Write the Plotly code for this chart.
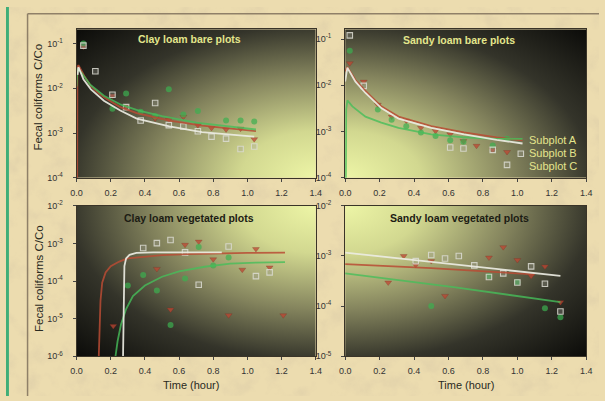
import base64
import plotly.graph_objects as go

# ---------------- DATA ----------------
# Clay loam bare plots
cb_t = [0.04, 0.11, 0.21, 0.29, 0.375, 0.46, 0.54, 0.625, 0.71, 0.79, 0.875, 0.96, 1.04]
cb_A = [0.085, None, 0.0068, 0.0040, None, 0.0021, 0.0020, 0.0023, 0.0015, 0.0013, 0.0012, 0.00125, 0.00073]
cb_B = [0.10, None, 0.0035, 0.0077, 0.0030, 0.0024, 0.0095, 0.0026, 0.0031, None, 0.0019, 0.0019, 0.0018]
cb_C = [0.09, 0.024, 0.0072, 0.0038, 0.0019, 0.0047, 0.0015, 0.0014, 0.0011, 0.00083, 0.00075, 0.00044, 0.0005]
cb_fitA_t = [0.003, 0.005, 0.011, 0.046, 0.084, 0.122, 0.16, 0.256, 0.352, 0.447, 0.543, 0.734, 0.925, 1.05]
cb_fitA = [1e-5, 0.030, 0.033, 0.0186, 0.0112, 0.0081, 0.0063, 0.0038, 0.0028, 0.0023, 0.0019, 0.00146, 0.00122, 0.0011]
cb_fitB_t = [0.0, 0.005, 0.03, 0.08, 0.16, 0.26, 0.36, 0.5, 0.7, 0.9, 1.05]
cb_fitB = [0.011, 0.028, 0.022, 0.012, 0.0068, 0.0043, 0.0032, 0.0024, 0.0017, 0.0014, 0.0012]
cb_fitC_t = [0.006, 0.011, 0.04, 0.084, 0.16, 0.256, 0.352, 0.543, 0.734, 0.925, 1.04]
cb_fitC = [0.02, 0.030, 0.016, 0.0095, 0.0053, 0.0032, 0.0021, 0.0014, 0.00105, 0.00089, 0.00083]

# Sandy loam bare plots
sb_t = [0.027, 0.108, 0.19, 0.27, 0.355, 0.44, 0.525, 0.61, 0.687, 0.763, 0.857, 0.94, 1.02]
sb_A = [0.030, 0.012, 0.0038, 0.0021, 0.0017, 0.0012, 0.00103, 0.00087, 0.00062, 0.00049, 0.0004, 0.00036, None]
sb_B = [0.056, None, 0.0030, 0.0018, 0.0013, 0.00095, 0.0008, 0.00065, 0.0006, None, 0.0005, 0.0007, None]
sb_C = [0.12, 0.0097, None, None, None, None, None, 0.00045, 0.00043, None, 0.0004, 0.00019, 0.00033]
sb_fitA_t = [0.0, 0.013, 0.06, 0.118, 0.21, 0.31, 0.5, 0.69, 0.88, 1.03]
sb_fitA = [0.02, 0.025, 0.013, 0.0076, 0.0035, 0.0021, 0.0013, 0.00096, 0.00075, 0.00064]
sb_fitB_t = [0.003, 0.006, 0.013, 0.042, 0.118, 0.21, 0.31, 0.5, 0.69, 0.88, 1.03]
sb_fitB = [1e-5, 0.003, 0.0047, 0.0035, 0.0021, 0.00155, 0.0012, 0.00087, 0.00075, 0.00069, 0.00069]
sb_fitC_t = [0.0, 0.013, 0.06, 0.118, 0.21, 0.31, 0.5, 0.69, 0.88, 1.03]
sb_fitC = [0.012, 0.024, 0.012, 0.0068, 0.0032, 0.0019, 0.0012, 0.00087, 0.00066, 0.00055]

# Clay loam vegetated plots
cv_t = [0.215, 0.30, 0.39, 0.47, 0.55, 0.635, 0.715, 0.80, 0.89, 0.97, 1.05, 1.13, 1.21]
cv_A = [6.4e-6, None, None, 0.00021, 1.74e-5, 0.00092, 0.00112, 0.00038, 1.23e-5, 0.0002, 0.00071, 0.00023, 1.23e-5]
cv_B = [None, 7.6e-5, 0.000145, 5.6e-5, 6.8e-6, 0.000117, 0.0008, 0.00026, 0.00042, None, None, None, None]
cv_C = [None, None, 0.00076, 0.00102, 0.00124, 0.00058, 8e-5, None, 0.00083, None, 0.000135, 0.00017, None]
cv_fitA_t = [0.13, 0.14, 0.15, 0.17, 0.2, 0.25, 0.3, 0.4, 0.5, 0.65, 0.85, 1.0, 1.22]
cv_fitA = [1e-6, 3e-5, 9e-5, 0.00017, 0.00025, 0.00033, 0.0004, 0.00045, 0.00049, 0.00052, 0.00055, 0.00056, 0.00057]
cv_fitB_t = [0.228, 0.24, 0.26, 0.29, 0.33, 0.4, 0.5, 0.6, 0.75, 0.9, 1.05, 1.22]
cv_fitB = [1e-6, 2.5e-6, 7e-6, 1.8e-5, 4e-5, 7.6e-5, 0.00013, 0.00018, 0.00024, 0.00029, 0.00031, 0.00032]
cv_fitC_t = [0.272, 0.275, 0.28, 0.29, 0.31, 0.35, 0.45, 0.6, 0.85]
cv_fitC = [1e-6, 5e-5, 0.00025, 0.0004, 0.0005, 0.00056, 0.00058, 0.00058, 0.00058]

# Sandy loam vegetated plots
sv_t = [0.25, 0.34, 0.41, 0.50, 0.58, 0.66, 0.75, 0.835, 0.918, 1.0, 1.08, 1.16, 1.25]
sv_A = [0.000295, 0.001, 0.00066, 0.00079, 0.00016, None, None, 0.00093, 0.0015, 0.00083, 0.0004, 0.00062, 0.00012]
sv_B = [None, None, None, 0.0001, None, None, None, 0.0004, None, 0.0003, None, 0.000091, 0.00006]
sv_C = [None, None, 0.00079, 0.00105, 0.00089, 0.001, 0.00065, 0.00038, 0.00045, 0.000295, 0.00062, 0.00028, 0.000078]
sv_fitA_t = [0.0, 0.5, 1.1]
sv_fitA = [0.00069, 0.00057, 0.00043]
sv_fitB_t = [0.0, 0.63, 1.25]
sv_fitB = [0.00045, 0.00024, 0.00012]
sv_fitC_t = [0.0, 0.63, 1.25]
sv_fitC = [0.00117, 0.00069, 0.0004]

panel_titles = ["Clay loam bare plots", "Sandy loam bare plots",
                "Clay loam vegetated plots", "Sandy loam vegetated plots"]
series_names = ["Subplot A", "Subplot B", "Subplot C"]
x_ticks = [0.0, 0.2, 0.4, 0.6, 0.8, 1.0, 1.2, 1.4]
y_title = "Fecal coliforms C/Co"
x_title = "Time (hour)"

# ---------------- STYLE ----------------
W, H = 605, 401
FONT = "Liberation Sans, Arial, sans-serif"
RED, GREEN, WHITE = "rgba(185,75,52,0.85)", "rgba(70,190,90,0.8)", "rgba(236,236,226,0.92)"


def px_x(p):
    return p / W


def px_y(p):
    return 1 - p / H


def b64svg(svg):
    return "data:image/svg+xml;base64," + base64.b64encode(svg.encode()).decode()


def grad(cx, cy):
    return b64svg(
        '<svg xmlns="http://www.w3.org/2000/svg" width="200" height="200" viewBox="0 0 200 200" '
        'preserveAspectRatio="none"><defs><radialGradient id="g" gradientUnits="userSpaceOnUse" '
        f'cx="{cx}" cy="{cy}" r="285">'
        '<stop offset="0" stop-color="#edf5a6"/><stop offset="0.22" stop-color="#d2d890"/>'
        '<stop offset="0.48" stop-color="#85855e"/><stop offset="0.72" stop-color="#34342a"/>'
        '<stop offset="1" stop-color="#0a0a08"/></radialGradient></defs>'
        '<rect width="200" height="200" fill="url(#g)"/></svg>')


parchment = b64svg(
    f'<svg xmlns="http://www.w3.org/2000/svg" width="{W}" height="{H}">'
    '<filter id="n" x="0" y="0" width="100%" height="100%">'
    '<feTurbulence type="fractalNoise" baseFrequency="0.045" numOctaves="4" seed="7"/>'
    '<feColorMatrix type="matrix" values="0 0 0 0 0.62  0 0 0 0 0.52  0 0 0 0 0.36  1.6 0 0 0 -0.75"/>'
    '</filter>'
    '<rect width="100%" height="100%" fill="#ecdcaf"/>'
    '<rect width="100%" height="100%" filter="url(#n)" opacity="0.5"/></svg>')

# panel geometry in pixels: (left, right, top, bottom), y log range
geo = [(72, 316, 23, 176, [-4, -0.68]),
       (346, 592, 23, 176, [-4, -0.79]),
       (72, 316, 205, 360, [-6, -2]),
       (346, 592, 205, 360, [-5, -2])]
grad_centers = [(200, 200), (0, 200), (200, 0), (0, 0)]

panel_data = [
    (cb_t, cb_A, cb_B, cb_C, (cb_fitA_t, cb_fitA), (cb_fitB_t, cb_fitB), (cb_fitC_t, cb_fitC)),
    (sb_t, sb_A, sb_B, sb_C, (sb_fitA_t, sb_fitA), (sb_fitB_t, sb_fitB), (sb_fitC_t, sb_fitC)),
    (cv_t, cv_A, cv_B, cv_C, (cv_fitA_t, cv_fitA), (cv_fitB_t, cv_fitB), (cv_fitC_t, cv_fitC)),
    (sv_t, sv_A, sv_B, sv_C, (sv_fitA_t, sv_fitA), (sv_fitB_t, sv_fitB), (sv_fitC_t, sv_fitC)),
]

fig = go.Figure()
layout = dict(width=W, height=H, margin=dict(l=0, r=0, t=0, b=0), autosize=False,
              paper_bgcolor="#ecdcaf", plot_bgcolor="rgba(0,0,0,0)", showlegend=False,
              font=dict(family=FONT, color="#333"))
images = [dict(source=parchment, xref="paper", yref="paper", x=0, y=1, sizex=1, sizey=1,
               sizing="stretch", layer="below", xanchor="left", yanchor="top")]
annotations = []

for i, (g, d) in enumerate(zip(geo, panel_data)):
    l, r, t, b, yr = g
    n = "" if i == 0 else str(i + 1)
    xa, ya = "x" + n, "y" + n
    tt, A, B, C, fA, fB, fC = d
    # markers
    fig.add_trace(go.Scatter(x=tt, y=A, mode="markers", xaxis=xa, yaxis=ya, name=series_names[0],
                             marker=dict(symbol="triangle-down", size=6, color="rgba(190,70,50,0.75)",
                                         line=dict(width=0.5, color="rgba(120,40,30,0.5)"))))
    fig.add_trace(go.Scatter(x=tt, y=B, mode="markers", xaxis=xa, yaxis=ya, name=series_names[1],
                             marker=dict(symbol="circle", size=6, color="rgba(60,175,80,0.7)",
                                         line=dict(width=0))))
    fig.add_trace(go.Scatter(x=tt, y=C, mode="markers", xaxis=xa, yaxis=ya, name=series_names[2],
                             marker=dict(symbol="square", size=5.5, color="rgba(160,160,150,0.3)",
                                         line=dict(width=1.1, color="rgba(220,220,210,0.85)"))))
    # fitted curves
    for (ft, fy), col in ((fA, RED), (fB, GREEN), (fC, WHITE)):
        fig.add_trace(go.Scatter(x=ft, y=fy, mode="lines", xaxis=xa, yaxis=ya,
                                 line=dict(color=col, width=1.8)))
    yexp = [e for e in range(-6, 0) if yr[0] - 1e-9 <= e <= yr[1] + 1e-9]
    layout["xaxis" + n] = dict(domain=[px_x(l), px_x(r)], anchor=ya, range=[0, 1.4],
                               tickvals=x_ticks, ticktext=[f"{v:.1f}" for v in x_ticks],
                               ticks="outside", ticklen=3, tickcolor="#444", showgrid=False,
                               zeroline=False, showline=True, linecolor="#3a3428", linewidth=1,
                               mirror=True, tickfont=dict(size=9, color="#333"), ticklabelstandoff=3)
    layout["yaxis" + n] = dict(domain=[px_y(b), px_y(t)], anchor=xa, type="log", range=yr,
                               tickvals=[10.0 ** e for e in yexp],
                               ticktext=[f"10<sup>{e}</sup>" for e in yexp],
                               ticks="outside", ticklen=3, tickcolor="#444", showgrid=False,
                               zeroline=False, showline=True, linecolor="#3a3428", linewidth=1,
                               mirror=True, tickfont=dict(size=9, color="#333"), ticklabelstandoff=8)
    images.append(dict(source=grad(*grad_centers[i]), xref=xa + " domain", yref=ya + " domain",
                       x=0, y=1, sizex=1, sizey=1, sizing="stretch", layer="below",
                       xanchor="left", yanchor="top"))

# panel titles
title_pos = [(187, 33, "#e3e68c"), (462, 34, "#e3e68c"), (187, 217, "#1c1c14"), (463, 217, "#1c1c14")]
for (x, y, c), txt in zip(title_pos, panel_titles):
    annotations.append(dict(text=f"<b>{txt}</b>", x=px_x(x), y=px_y(y), xref="paper", yref="paper",
                            showarrow=False, font=dict(size=10.5, color=c, family=FONT),
                            xanchor="center", yanchor="middle"))
# legend text
for k, (name, y) in enumerate(zip(series_names, [137, 151, 164])):
    annotations.append(dict(text=name, x=px_x(532), y=px_y(y), xref="paper", yref="paper",
                            showarrow=False, font=dict(size=11, color="#e4e48c", family=FONT),
                            xanchor="left", yanchor="middle"))
# axis titles
for yc in (93, 280):
    annotations.append(dict(text=y_title, x=px_x(33), y=px_y(yc), xref="paper", yref="paper",
                            showarrow=False, textangle=-90, font=dict(size=11.5, color="#2a2a22", family=FONT),
                            xanchor="center", yanchor="middle"))
for xc in (189, 469):
    annotations.append(dict(text=x_title, x=px_x(xc), y=px_y(390), xref="paper", yref="paper",
                            showarrow=False, font=dict(size=11, color="#2a2a22", family=FONT),
                            xanchor="center", yanchor="middle"))

shapes = [
    dict(type="rect", xref="paper", yref="paper", x0=0, x1=px_x(3), y0=0, y1=1,
         fillcolor="#3fae78", line=dict(width=0), layer="above"),
    dict(type="line", xref="paper", yref="paper", x0=px_x(22), x1=1, y0=px_y(7), y1=px_y(7),
         line=dict(color="#8f8068", width=1.5)),
    dict(type="line", xref="paper", yref="paper", x0=px_x(22), x1=px_x(22), y0=px_y(7), y1=0,
         line=dict(color="#8f8068", width=1.5)),
]

layout["images"] = images
layout["annotations"] = annotations
layout["shapes"] = shapes
fig.update_layout(**layout)
fig.write_html("out.html")
